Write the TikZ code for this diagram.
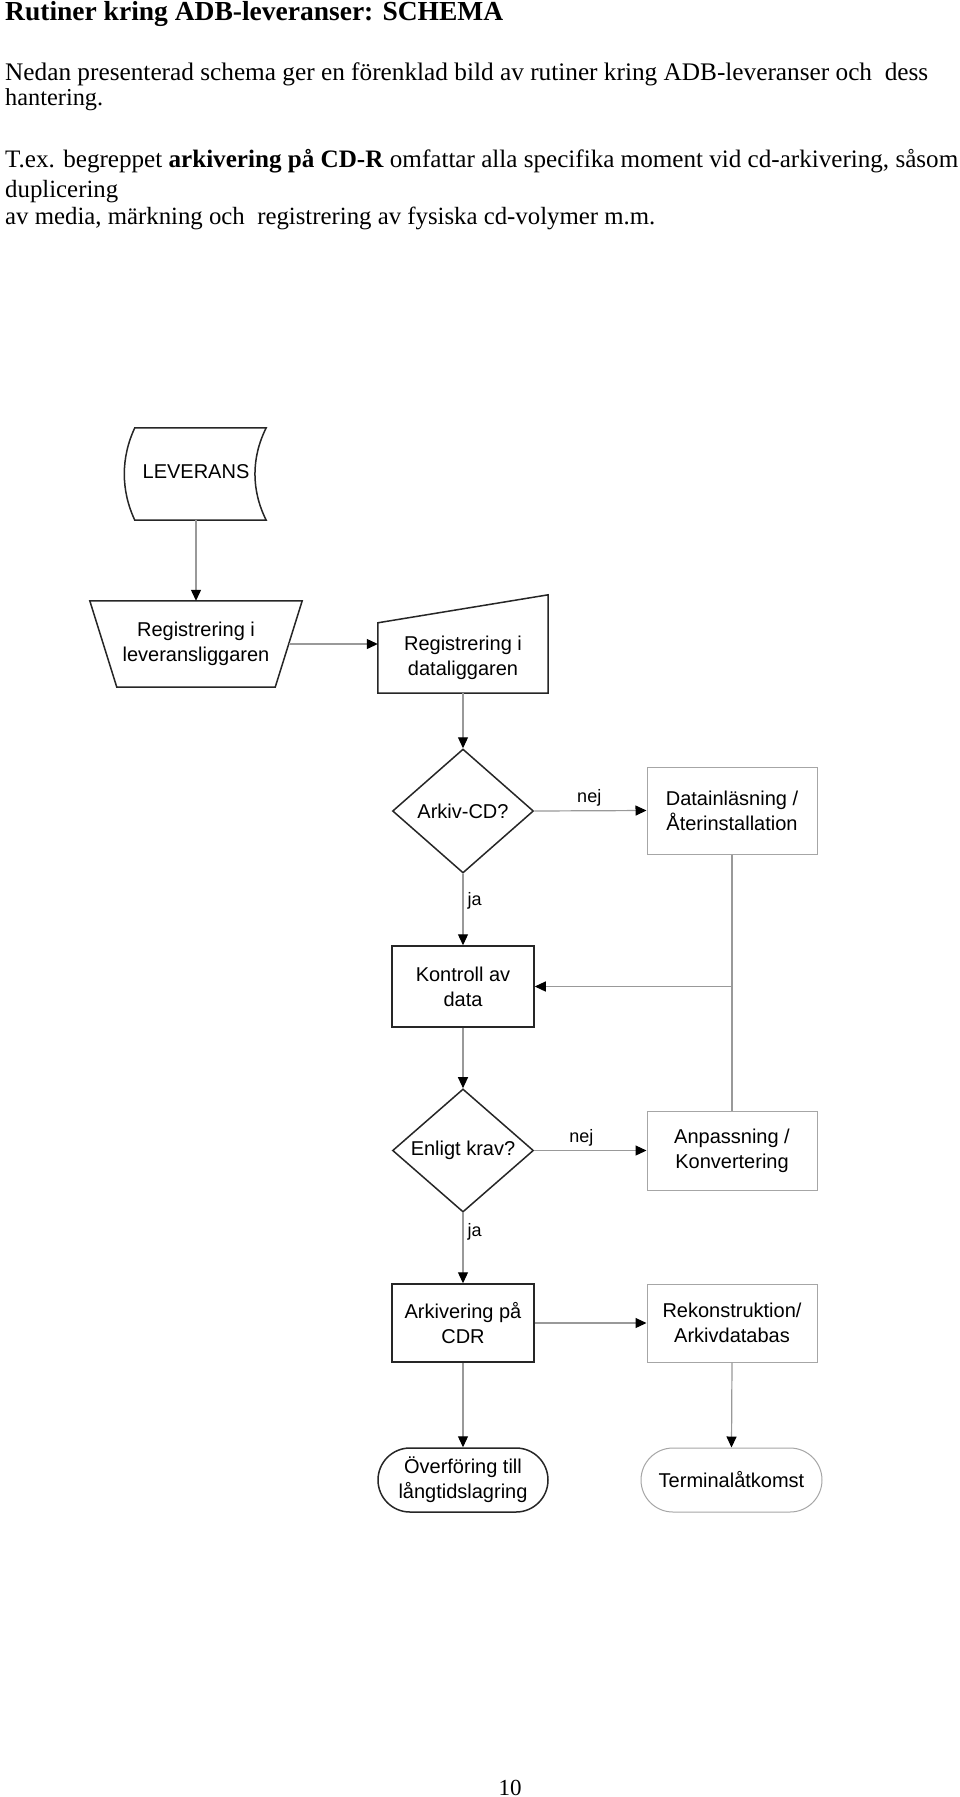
\documentclass[tikz,border=0pt]{standalone}
\usepackage{fontspec}
\setmainfont{Liberation Serif}
\newfontfamily\diagfont{Liberation Sans}
\usetikzlibrary{arrows.meta,shapes.geometric,calc}
\begin{document}
\begin{tikzpicture}[x=1pt,y=-1pt,
  dark/.style={draw=black!85, line width=1.5pt},
  light/.style={draw=black!35, line width=1pt},
  txt/.style={font=\diagfont\fontsize{20}{25}\selectfont, align=center, inner sep=0pt},
  box/.style={rectangle, txt},
  conn/.style={draw=black!40, line width=1.2pt, -{Triangle[length=11pt,width=10pt,color=black]}},
  plainline/.style={draw=black!40, line width=1.2pt},
  lbl/.style={font=\diagfont\fontsize{18}{20}\selectfont, inner sep=0pt},
  hdr/.style={anchor=base west, inner sep=0pt}]

\useasboundingbox[fill=white] (0,0) rectangle (960,1797);

% ---------- header text ----------
\node[hdr] (title) at (5,20) {\resizebox{498pt}{!}{\bfseries Rutiner kring ADB-leveranser: SCHEMA}};
\node[hdr] (p1a) at (5,80) {\resizebox{923pt}{!}{Nedan presenterad schema ger en förenklad bild av rutiner kring ADB-leveranser och\ \ dess}};
\node[hdr] (p1b) at (5,105) {\resizebox{98pt}{!}{hantering.}};
\node[hdr] (p2a) at (5,167) {\resizebox{953pt}{!}{T.ex. begreppet \textbf{arkivering på CD-R} omfattar alla specifika moment vid cd-arkivering, såsom}};
\node[hdr] (p2b) at (5,197) {\resizebox{113pt}{!}{duplicering}};
\node[hdr] (p2c) at (5,224) {\resizebox{650pt}{!}{av media, märkning och\ \ registrering av fysiska cd-volymer m.m.}};

% ---------- LEVERANS (stored data) ----------
\node[rectangle, minimum width=131pt, minimum height=92pt, inner sep=0pt] (lev) at (200.5,474) {};
\draw[dark] (lev.north west) -- (lev.north east)
  .. controls ($(lev.north east)+(-15,30)$) and ($(lev.south east)+(-15,-30)$) .. (lev.south east)
  -- (lev.south west)
  .. controls ($(lev.south west)+(-14,-30)$) and ($(lev.north west)+(-14,30)$) .. (lev.north west) -- cycle;
\node[txt] (levt) at (196,472) {LEVERANS};

% ---------- Registrering i leveransliggaren (manual operation) ----------
\node[box, minimum width=212pt, minimum height=86pt] (reg1) at (196,644) {Registrering i\\leveransliggaren};
\draw[dark] (reg1.north west) -- (reg1.north east) -- ($(reg1.south east)+(-27,0)$)
  -- ($(reg1.south west)+(27,0)$) -- cycle;
\coordinate (reg1e) at ($(reg1.east)+(-13.5,0)$);

% ---------- Registrering i dataliggaren (manual input) ----------
\node[rectangle, minimum width=170pt, minimum height=98pt, inner sep=0pt] (reg2) at (463,644) {};
\draw[dark] (reg2.south west) -- ($(reg2.north west)+(0,28)$) -- (reg2.north east)
  -- (reg2.south east) -- cycle;
\node[txt] (reg2t) at (463,658) {Registrering i\\dataliggaren};

% ---------- decisions and boxes ----------
\node[txt, dark, diamond, minimum width=141pt, minimum height=124pt] (d1) at (463,811) {Arkiv-CD?};
\node[box, light, minimum width=170pt, minimum height=87pt] (dat) at (732,810.5) {Datainläsning /\\Återinstallation};
\node[box, dark, minimum width=142pt, minimum height=81pt] (kon) at (463,986.5) {Kontroll av\\data};
\node[txt, dark, diamond, minimum width=141pt, minimum height=123pt] (d2) at (463,1150.5) {Enligt krav?};
\node[box, light, minimum width=170pt, minimum height=79pt] (anp) at (732,1150.5) {Anpassning /\\Konvertering};
\node[box, dark, minimum width=142pt, minimum height=78pt] (ark) at (463,1323) {Arkivering på\\CDR};
\node[box, light, minimum width=170pt, minimum height=78pt] (rek) at (732,1323) {Rekonstruktion/\\Arkivdatabas};
\node[box, dark, minimum width=170pt, minimum height=64pt, rounded corners=32pt] (ovf) at (463,1480) {Överföring till\\långtidslagring};
\node[box, light, minimum width=181pt, minimum height=64pt, rounded corners=32pt] (ter) at (731.5,1480) {Terminalåtkomst};

% ---------- connectors ----------
\draw[conn] (levt |- lev.south) -- (levt |- reg1.north);
\draw[conn] (reg1e) -- (reg1e -| reg2.west);
\draw[conn] (reg2.south) -- (d1.north);
\draw[conn] (d1.east) -- node[lbl, pos=0.49, above=4pt] (nej1) {nej} (dat.west);
\draw[conn] (d1.south) -- node[lbl, pos=0.38, right=4pt] (ja1) {ja} (kon.north);
\draw[plainline] (dat.south) -- (anp.north);
\coordinate (jn) at (dat.south |- kon.east);
\draw[conn] (jn) -- (kon.east);
\draw[conn] (kon.south) -- (d2.north);
\draw[conn] (d2.east) -- node[lbl, pos=0.42, above=4pt] (nej2) {nej} (anp.west);
\draw[conn] (d2.south) -- node[lbl, pos=0.27, right=4pt] (ja2) {ja} (ark.north);
\draw[conn] (ark.east) -- (rek.west);
\draw[conn] (ark.south) -- (ovf.north);
\draw[conn] (rek.south) -- (ter.north);

% ---------- page number ----------
\node[anchor=base, inner sep=0pt, font=\fontsize{23}{27}\selectfont] (pg) at (510,1795) {10};
\end{tikzpicture}
\end{document}
